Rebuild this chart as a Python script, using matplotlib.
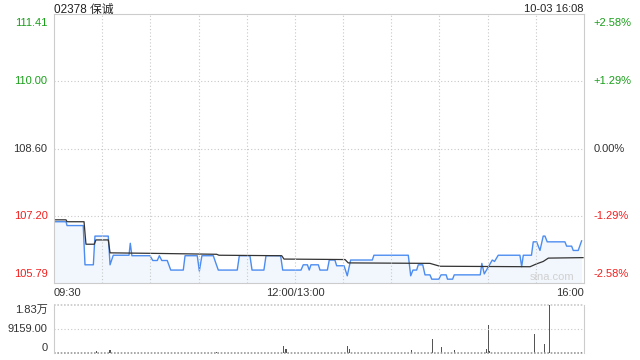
import matplotlib
matplotlib.use("Agg")
import matplotlib.pyplot as plt

plt.rcParams['font.family'] = ['Liberation Sans', 'Noto Sans CJK SC', 'DejaVu Sans']

# intraday price (minutes since 09:30, lunch break removed)
price_min = [0, 7.5, 8.1, 18.2, 19.3, 24.5, 25.5, 33.8, 34.9, 36.9, 46.7, 47.5, 48.5,
             59.8, 61.5, 64.3, 65.6, 67.1, 70.5, 72.7, 80.5, 81.6, 89.2, 90.5, 92.1,
             99.2, 100.2, 102.3, 114.1, 115.4, 122.0, 123.3, 130.7, 132.0, 141.1, 142.4,
             153.8, 155.2, 157.8, 158.9, 160.0, 164.6, 165.6, 170.2, 171.4, 174.9, 176.0,
             180.6, 182.6, 184.7, 198.2, 199.2, 220.6, 222.1, 223.5, 225.8, 226.8, 229.6,
             231.0, 234.1, 235.2, 239.6, 241.0, 244.2, 245.0, 248.2, 249.2, 265.4, 266.4,
             267.9, 272.9, 274.3, 276.6, 290.1, 291.2, 292.2, 297.3, 298.4, 300.5, 302.6,
             304.6, 305.7, 307.1, 318.1, 319.2, 322.3, 323.3, 326.4, 328.5]
price = [107.07, 107.07, 106.99, 106.99, 106.17, 106.17, 106.77, 106.77, 106.17, 106.37,
         106.37, 106.62, 106.36, 106.36, 106.26, 106.26, 106.36, 106.26, 106.26, 106.06,
         106.06, 106.36, 106.36, 106.04, 106.36, 106.36, 106.26, 106.06, 106.06, 106.36,
         106.36, 106.06, 106.06, 106.36, 106.36, 106.06, 106.06, 106.17, 106.17, 106.06,
         106.17, 106.17, 106.06, 106.06, 106.27, 106.27, 106.15, 106.15, 105.94, 106.27,
         106.27, 106.37, 106.37, 105.94, 106.06, 106.06, 106.17, 106.17, 105.96, 105.96,
         105.87, 105.87, 105.96, 105.96, 105.87, 105.87, 105.96, 105.96, 106.20, 105.98,
         106.27, 106.24, 106.37, 106.37, 106.13, 106.37, 106.37, 106.65, 106.65, 106.47,
         106.77, 106.77, 106.65, 106.65, 106.56, 106.56, 106.47, 106.47, 106.67]

# average price line
avg_min = [0, 7.5, 8.1, 18.7, 19.9, 25.1, 26.1, 33.8, 34.9, 59.8, 101.3, 102.7, 141.8,
           143.2, 181.2, 183.2, 234.1, 240.3, 296.4, 300.5, 304.6, 307.8, 329.4]
avg = [107.11, 107.11, 107.07, 107.07, 106.60, 106.60, 106.69, 106.69, 106.42, 106.41,
       106.39, 106.37, 106.36, 106.29, 106.28, 106.21, 106.20, 106.14, 106.13, 106.19,
       106.24, 106.31, 106.32]

# volume bars
vol_min = [26.6, 34.9, 101.3, 142.8, 144.4, 182.6, 183.8, 222.7, 235.8, 241.4, 249.2,
           269.4, 270.4, 271.0, 299.0, 305.3, 308.4, 328.5]
volume = [600, 1150, 400, 2670, 1700, 2670, 1500, 1000, 5340, 2200, 1000,
          1400, 10680, 700, 7250, 3430, 18318, 500]

prev_close = 108.60
price_ticks = [105.79, 107.20, 108.60, 110.00, 111.41]
pct_labels = ['-2.58%', '-1.29%', '0.00%', '+1.29%', '+2.58%']
vol_ticks = [0, 9159, 18318]
vol_labels = ['0', '9159.00', '1.83万']

red = '#f0201f'
green = '#1a9f1a'
blue = '#4c8cf0'
grid = '#c8c8c8'

fig = plt.figure(figsize=(6.4, 3.6), dpi=100)
ax = fig.add_axes([54 / 640, 1 - 283 / 360, 530 / 640, 269 / 360])
axv = fig.add_axes([54 / 640, 1 - 353 / 360, 530 / 640, 48 / 360])

# price panel
ax.fill_between(price_min, price, price_ticks[0], color='#eaf2fd', alpha=0.6, lw=0)
ax.plot(price_min, price, color=blue, lw=1)
ax.plot(avg_min, avg, color='#333333', lw=0.9)
ax.set_xlim(0, 330)
ax.set_ylim(price_ticks[0], price_ticks[-1])
ax.set_xticks([])
ax.set_yticks([])
for t in range(30, 330, 30):
    ax.axvline(t, color=grid, lw=0.8, ls=(0, (1, 2)))
for p in price_ticks[1:-1]:
    ax.axhline(p, color=grid, lw=0.8, ls=(0, (1, 2)))
for s in ax.spines.values():
    s.set_color('#cccccc')

# price / percent labels on both sides
for i, p in enumerate(price_ticks):
    c = green if p > prev_close else (red if p < prev_close else '#333333')
    va = 'top' if i == len(price_ticks) - 1 else ('bottom' if i == 0 else 'center')
    off = -0.08 if va == 'top' else (0.08 if va == 'bottom' else 0)
    ax.text(-4, p + off, '%.2f' % p, color=c, ha='right', va=va, fontsize=8, clip_on=False)
    ax.text(336, p + off, pct_labels[i], color=c, ha='left', va=va, fontsize=8, clip_on=False)

ax.text(0, -0.02, '09:30', ha='left', va='top', fontsize=8, color='#333333', transform=ax.transAxes)
ax.text(150 / 330, -0.02, '12:00/13:00', ha='center', va='top', fontsize=8, color='#333333', transform=ax.transAxes)
ax.text(1, -0.02, '16:00', ha='right', va='top', fontsize=8, color='#333333', transform=ax.transAxes)
ax.text(0.94, 0.005, 'sina.com', ha='center', va='bottom', fontsize=8, color='#d0d0d0', transform=ax.transAxes)

fig.text(54 / 640, 1 - 13 / 360, '02378 保诚', ha='left', va='baseline', fontsize=8.5, color='#222222')
fig.text(584 / 640, 1 - 12 / 360, '10-03 16:08', ha='right', va='baseline', fontsize=8, color='#222222')

# volume panel
axv.bar(vol_min, volume, width=0.8, color='#555555')
axv.set_xlim(0, 330)
axv.set_ylim(0, vol_ticks[-1])
axv.set_xticks([])
axv.set_yticks([])
axv.axhline(9159, color=grid, lw=0.8, ls=(0, (1, 2)))
axv.axhline(vol_ticks[-1], color=grid, lw=1.2, ls=(0, (1, 1)), clip_on=False)
axv.axhline(0, color='#999999', lw=1.2, ls=(0, (1, 1)), clip_on=False)
axv.spines['top'].set_visible(False)
axv.spines['bottom'].set_visible(False)
axv.spines['left'].set_color('#cccccc')
axv.spines['right'].set_color('#cccccc')
for v, lab, va in zip(vol_ticks, vol_labels, ['bottom', 'center', 'top']):
    axv.text(-4, v, lab, ha='right', va=va, fontsize=8, color='#333333', clip_on=False)

fig.savefig('out.png', dpi=100)
